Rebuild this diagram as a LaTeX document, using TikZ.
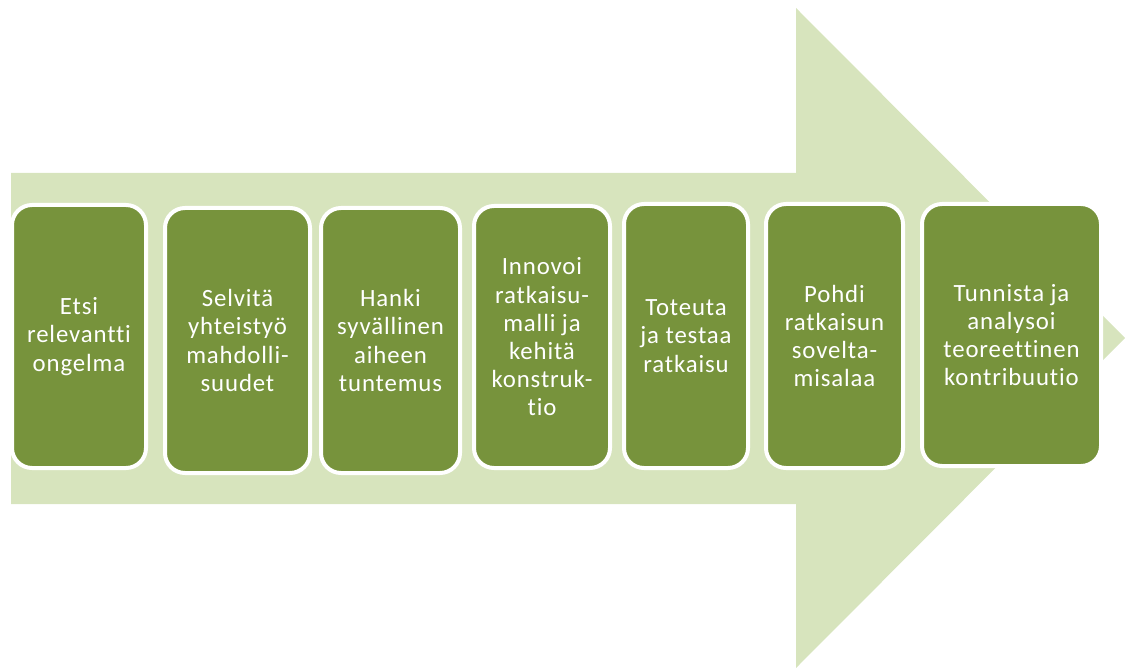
\documentclass[tikz,border=0pt]{standalone}
\usepackage{fontspec}
\setmainfont{Carlito}[Ligatures=NoCommon, LetterSpace=3.5]
\definecolor{arrowgreen}{HTML}{D7E4BD}
\definecolor{stepgreen}{HTML}{77933C}
\begin{document}
\begin{tikzpicture}[x=1pt,y=-1pt,
  stepbox/.style={draw=white, line width=4pt, fill=stepgreen,
    rounded corners=20pt, text=white, align=center,
    font=\fontsize{24.8}{28.2}\selectfont, inner sep=0pt}]
\useasboundingbox (0,0) rectangle (1125,668);
% large background arrow
\fill[arrowgreen] (11,173) -- (796,173) -- (796,8) -- (1125,338)
  -- (796,668) -- (796,504) -- (11,504) -- cycle;
% process steps
\node[stepbox, minimum width=134pt, minimum height=263pt] (s1) at (79,336.5)
  {Etsi\\relevantti\\ongelma};
\node[stepbox, minimum width=145pt, minimum height=265pt] (s2) at (237.5,340.5)
  {Selvitä\\yhteistyö\\mahdolli-\\suudet};
\node[stepbox, minimum width=139pt, minimum height=265pt] (s3) at (390.5,340.5)
  {Hanki\\syvällinen\\aiheen\\tuntemus};
\node[stepbox, minimum width=136pt, minimum height=262pt] (s4) at (542,337)
  {Innovoi\\ratkaisu-\\malli ja\\kehitä\\konstruk-\\tio};
\node[stepbox, minimum width=124pt, minimum height=264pt] (s5) at (686,336)
  {Toteuta\\ja testaa\\ratkaisu};
\node[stepbox, minimum width=137pt, minimum height=264pt] (s6) at (834.5,336)
  {Pohdi\\ratkaisun\\sovelta-\\misalaa};
\node[stepbox, minimum width=179pt, minimum height=262pt] (s7) at (1011.5,335)
  {Tunnista ja\\analysoi\\teoreettinen\\kontribuutio};
\end{tikzpicture}
\end{document}
